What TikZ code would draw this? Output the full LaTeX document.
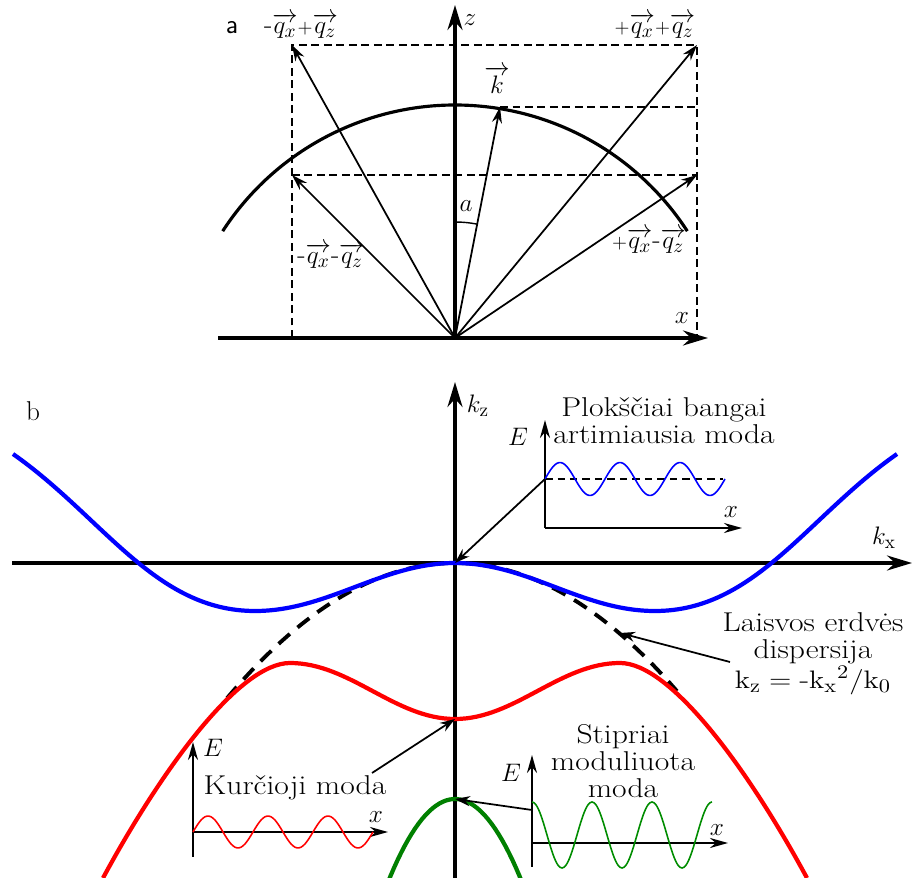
\documentclass[tikz,border=0pt]{standalone}
\usepackage{amsmath,amssymb}
\usepackage{graphicx}
\usepackage{tikz}
\usetikzlibrary{arrows.meta}

\newcommand{\vecq}[1]{\overrightarrow{q_{#1}}}
\newcommand{\smallplus}{{\scriptstyle +}}
\newcommand{\stretchtxt}[1]{\scalebox{1.16}[1]{#1}}

\tikzset{
  lbl/.style={font=\fontsize{15.5}{15.5}\selectfont, inner sep=0pt},
  bigaxis/.style={line width=1.8pt, -{Stealth[length=0.5cm,width=0.3cm]}},
  vecarrow/.style={line width=1pt, -{Stealth[length=0.32cm,width=0.2cm]}},
  guide/.style={line width=1pt, dash pattern=on 0.16cm off 0.09cm},
  insetaxis/.style={line width=1.2pt, -{Stealth[length=0.36cm,width=0.2cm]}},
  pointer/.style={line width=1pt, -{Stealth[length=0.3cm,width=0.2cm]}},
  band/.style={line width=2.4pt},
  wave/.style={line width=0.9pt, smooth, samples=91, domain=0:180},
}

\begin{document}
\begin{tikzpicture}[x=0.02cm,y=-0.02cm]
  \useasboundingbox (0,0) rectangle (914,878);

  % ===== a: wave vectors =====
  \coordinate (O) at (455,338);
  \coordinate (qmp) at (292,45);
  \coordinate (qpp) at (697,45);
  \coordinate (qmm) at (292,175);
  \coordinate (qpm) at (697,175);
  \coordinate (kt) at (500,107);
  % dashed box
  \draw[guide] (292,338) -- (qmp) -- (qpp) -- (697,338);
  \draw[guide] (qmm) -- (qpm);
  \draw[guide] (kt) -- (697,107);
  % circle |k| = const
  \draw[line width=1.8pt] (455,382) ++(-147:277) arc[start angle=-147,end angle=-33,radius=277];
  % axes
  \draw[bigaxis] (218,338) -- (708,338);
  \draw[bigaxis] (O) -- (455,5);
  % vectors
  \draw[vecarrow] (O) -- (qmp);
  \draw[vecarrow] (O) -- (qpp);
  \draw[vecarrow] (O) -- (qmm);
  \draw[vecarrow] (O) -- (qpm);
  \draw[vecarrow] (O) -- (kt);
  \draw[line width=0.8pt] (O) ++(-90:116) arc[start angle=-90,end angle=-79,radius=116];
  \node[lbl] (la) at (232,28) {\textsf{a}};
  \node[lbl] (lqmp) at (301,26) {$\text{-}\vecq{x}\smallplus\vecq{z}$};
  \node[lbl] (lqpp) at (655,26) {$\smallplus\vecq{x}\smallplus\vecq{z}$};
  \node[lbl] (lk) at (497,80) {$\overrightarrow{k}$};
  \node[lbl] (lz) at (470,20) {$z$};
  \node[lbl] (lang) at (466,206) {$a$};
  \node[lbl] (lqmm) at (331,256) {$\text{-}\vecq{x}\text{-}\vecq{z}$};
  \node[lbl] (lqpm) at (649,241) {$\smallplus\vecq{x}\text{-}\vecq{z}$};
  \node[lbl] (lx) at (682,318) {$x$};

  % ===== b: dispersion =====
  \coordinate (O2) at (455,563);
  \coordinate (redmin) at (455,719);
  \coordinate (greentop) at (455,799);
  \coordinate (free) at (620,633);
  \draw[bigaxis] (12,563) -- (912,563);
  \draw[bigaxis] (455,878) -- (455,382);
  \node[lbl] (lb) at (33,411) {b};
  \node[lbl] (lkz) at (478,406) {$k_\mathrm{z}$};
  \node[lbl] (lkx) at (884,538) {$k_\mathrm{x}$};
  % free space parabola
  \draw[line width=2.2pt, dash pattern=on 0.3cm off 0.2cm] plot[domain=-228:222, samples=60] ({455+\x},{563+(\x/19.61)*(\x/19.61)});
  % bands
  \draw[band, blue] (13,454) .. controls (103,517) and (155,611) .. (255,611)
    .. controls (328,611) and (382,563) .. (O2)
    .. controls (528,563) and (582,611) .. (655,611)
    .. controls (755,611) and (807,517) .. (897,454);
  \draw[band, red] (103,878) .. controls (163,767) and (240,663) .. (290,663)
    .. controls (350,663) and (395,719) .. (redmin)
    .. controls (515,719) and (560,663) .. (620,663)
    .. controls (670,663) and (747,767) .. (807,878);
  \draw[band, green!50!black] plot[domain=-68:68, samples=40] ({455+\x},{799+(\x/7.35)*(\x/7.35)});

  % inset: plane wave
  \coordinate (i1o) at (545,528);
  \coordinate (i1m) at (545,479);
  \draw[insetaxis] (i1o) -- (545,420);
  \draw[insetaxis] (i1o) -- (742,528);
  \draw[line width=1.1pt, dash pattern=on 0.15cm off 0.1cm] (i1m) -- (723,479);
  \draw[wave, blue] plot ({545+\x},{479-16.5*sin(6*\x)});
  \node[lbl] (lE1) at (518,437) {$E$};
  \node[lbl] (lx1) at (731,512) {$x$};
  \node[lbl, align=center] (plane) at (664,421) {\stretchtxt{Plokščiai bangai}\\\stretchtxt{artimiausia moda}};
  \draw[pointer] (i1m) -- (O2);

  % inset: curved mode
  \coordinate (i2o) at (193,832);
  \draw[insetaxis] (193,857) -- (193,742);
  \draw[insetaxis] (i2o) -- (388,832);
  \draw[wave, red] plot ({193+\x},{832-16*sin(6*\x)});
  \node[lbl] (lE2) at (213,748) {$E$};
  \node[lbl] (lx2) at (376,817) {$x$};
  \node[lbl] (curved) at (295,788) {\stretchtxt{Kurčioji moda}};
  \coordinate (curvedtail) at (372,773);
  \draw[pointer] (curvedtail) -- (redmin);

  % inset: strongly modulated mode
  \coordinate (i3o) at (532,843);
  \coordinate (i3m) at (532,810);
  \draw[insetaxis] (532,867) -- (532,755);
  \draw[insetaxis] (i3o) -- (728,843);
  \draw[wave, green!55!black] plot ({532+\x},{835-33*cos(6*\x)});
  \node[lbl] (lE3) at (511,773) {$E$};
  \node[lbl] (lx3) at (717,830) {$x$};
  \node[lbl, align=center] (strong) at (623,761) {\stretchtxt{Stipriai}\\\stretchtxt{moduliuota}\\\stretchtxt{moda}};
  \draw[pointer] (i3m) -- (greentop);

  % free space label
  \node[lbl, align=center] (freelbl) at (813,654) {\stretchtxt{Laisvos erdvės}\\\stretchtxt{dispersija}\\\stretchtxt{$\mathrm{k_z} = \text{-}{\mathrm{k_x}}^2/\mathrm{k_0}$}};
  \coordinate (freetail) at (730,662);
  \draw[pointer] (freetail) -- (free);
\end{tikzpicture}
\end{document}
